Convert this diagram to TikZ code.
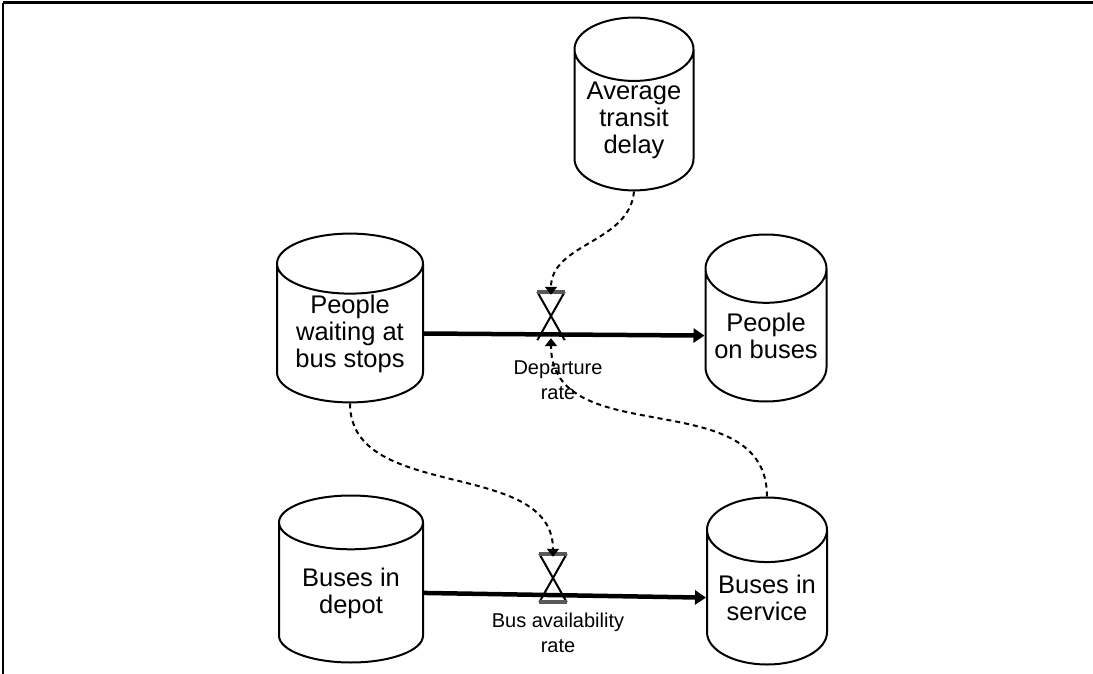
\documentclass[tikz,border=0pt]{standalone}
\usepackage{fontspec}
\setmainfont{Liberation Sans}
\usetikzlibrary{arrows.meta,positioning,shapes.geometric}

\tikzset{
  stock/.style={cylinder, shape border rotate=90, draw, line width=2pt, fill=white,
    minimum height=167pt, anchor=shape center, inner sep=0pt, align=center,
    font=\fontsize{25.5}{27}\selectfont},
  flow/.style={line width=4.5pt, -{Triangle[length=11pt,width=14pt]}},
  link/.style={line width=2pt, dash pattern=on 5pt off 4pt,
    -{Triangle[length=8pt,width=12pt]}},
  valve/.style={minimum width=27pt, minimum height=48pt, inner sep=0pt},
  valveline/.style={line width=2pt},
  valvebar/.style={line width=3.5pt, black!65},
  ratelbl/.style={align=center, inner sep=0pt, font=\fontsize{20}{25}\selectfont}
}

\begin{document}
\begin{tikzpicture}[x=1pt, y=-1pt]
  %%%%% START %%%%%

  \useasboundingbox (0,0) rectangle (1093,674);
  \draw[line width=1.5pt] (3,674) -- (3,3);
  \draw[line width=3pt] (3,3) -- (1093,3);

  % stocks
  \node[stock, minimum width=119pt, aspect=0.67] (trdelay) at (634,104) {Average\\transit\\delay};
  \node[stock, minimum width=146pt, aspect=0.55] (waiting) at (350,318) {People\\waiting at\\bus stops};
  \node[stock, minimum width=121pt, aspect=0.66] (onbus) at (766,318) {People\\on buses};
  \node[stock, minimum width=144pt, aspect=0.55] (depot) at (351,579) {Buses in\\depot};
  \node[stock, minimum width=120pt, aspect=0.66] (service) at (767,581) {Buses in\\service};

  % valves
  \node[valve] (depart) at (551,316) {};
  \node[valve] (avail) at (553,578) {};

  \node[ratelbl, below=20pt of depart, xshift=7pt] (departlbl) {Departure\\rate};
  \node[ratelbl, below=11pt of avail, xshift=5pt] (availlbl) {Bus availability\\rate};

  % flows
  \draw[flow] (waiting.east) -- (onbus.west);
  \draw[flow] (depot.east) -- (service.west);

  \draw[valveline] (depart.north west) -- (depart.south east)
                   (depart.north east) -- (depart.south west);
  \draw[valvebar] (depart.north west) -- (depart.north east);

  \draw[valveline] (avail.north west) -- (avail.south east)
                   (avail.north east) -- (avail.south west);
  \draw[valvebar] (avail.north west) -- (avail.north east);
  \draw[valvebar] (avail.south west) -- (avail.south east);

  % links
  \draw[link] (trdelay.south) to[out=-95, in=90] ([yshift=-3pt]depart.north);
  \draw[link] (waiting.south) to[out=-90, in=90] ([yshift=-3pt]avail.north);
  \draw[link] (service.north) to[out=90, in=-90, looseness=1.1] ([yshift=2pt]depart.south);

  %%%%% END %%%%%
\end{tikzpicture}
\end{document}
